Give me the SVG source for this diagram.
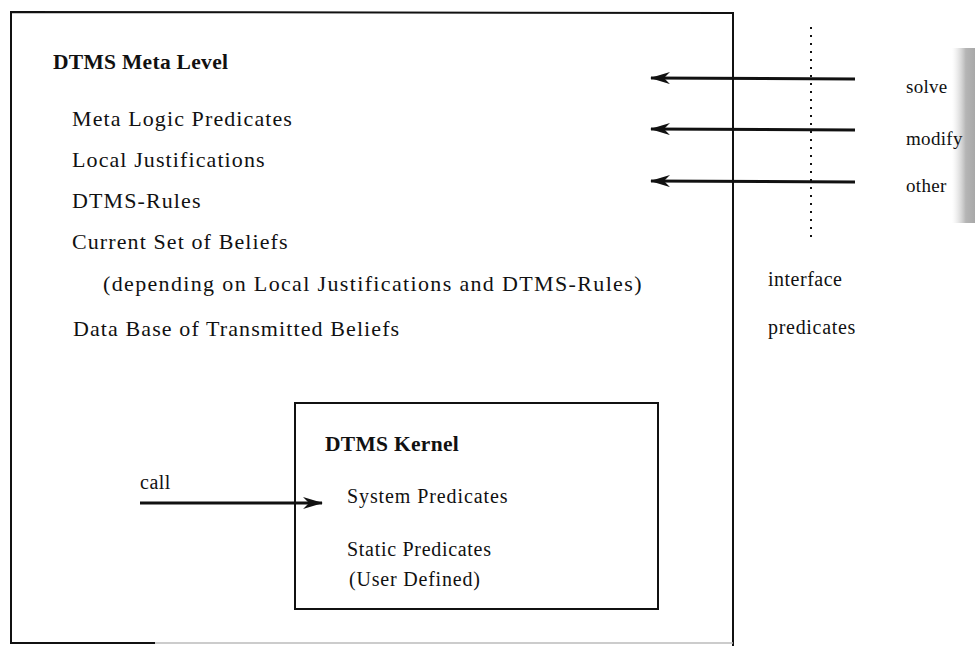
<svg xmlns="http://www.w3.org/2000/svg" width="979" height="646" viewBox="0 0 979 646">
<defs>
<marker id="ah" viewBox="0 0 20 12" refX="19" refY="6" markerWidth="20" markerHeight="12" markerUnits="userSpaceOnUse" orient="auto">
<path d="M0,0 L20,6 L0,12 L6,6 Z" fill="#111"/>
</marker>
<linearGradient id="smear" x1="0" x2="1" y1="0" y2="0">
<stop offset="0" stop-color="#ddd" stop-opacity="0"/>
<stop offset="0.6" stop-color="#b5b5b5"/>
<stop offset="1" stop-color="#a8a8a8"/>
</linearGradient>
</defs>
<style>
text{font-family:"Liberation Serif","Times New Roman",serif;fill:#111}
.t{font-size:22px;letter-spacing:1.1px}
.k{font-size:20px;letter-spacing:0.9px}
.b{font-size:21.5px;font-weight:bold;letter-spacing:0.3px}
.s{font-size:20px;letter-spacing:0.5px}
.r{font-size:19px;letter-spacing:0.3px}
.box{fill:none;stroke:#111;stroke-width:2}
.arr{stroke:#111;stroke-width:3;fill:none}
</style>
<rect x="0" y="0" width="979" height="646" fill="#fff"/>
<rect x="952" y="48" width="23" height="175" fill="url(#smear)"/>
<g id="meta-level">
<path class="box" d="M155,643 L11,643 L11,12 L733,13 L733,646"/>
<line x1="155" y1="643" x2="733" y2="643" stroke="#bbb" stroke-width="1.5"/>
<text class="b" x="53" y="69">DTMS Meta Level</text>
<text class="t" x="72" y="126">Meta Logic Predicates</text>
<text class="t" x="72" y="167">Local Justifications</text>
<text class="t" x="72" y="208">DTMS-Rules</text>
<text class="t" x="72" y="249">Current Set of Beliefs</text>
<text class="t" x="103" y="291" style="letter-spacing:1.35px">(depending on Local Justifications and DTMS-Rules)</text>
<text class="t" x="73" y="336">Data Base of Transmitted Beliefs</text>
</g>
<g id="kernel">
<rect class="box" x="295" y="403" width="363" height="206"/>
<text class="b" x="325" y="451">DTMS Kernel</text>
<text class="k" x="347" y="503">System Predicates</text>
<text class="k" x="347" y="556" style="letter-spacing:0.7px">Static Predicates</text>
<text class="k" x="349" y="586" style="letter-spacing:0.8px">(User Defined)</text>
</g>
<g id="interface">
<line x1="811" y1="27" x2="811" y2="237" stroke="#111" stroke-width="2" stroke-dasharray="2,6"/>
<text class="s" x="768" y="286">interface</text>
<text class="s" x="768" y="334" style="letter-spacing:0.7px">predicates</text>
<text class="r" x="906" y="93">solve</text>
<text class="r" x="906" y="145">modify</text>
<text class="r" x="906" y="192">other</text>
</g>
<g id="connectors">
<line class="arr" x1="855" y1="79" x2="651" y2="78" marker-end="url(#ah)"/>
<line class="arr" x1="855" y1="130" x2="651" y2="129" marker-end="url(#ah)"/>
<line class="arr" x1="855" y1="182" x2="651" y2="181" marker-end="url(#ah)"/>
<line class="arr" x1="140" y1="503" x2="322" y2="503" marker-end="url(#ah)"/>
<text class="s" x="140" y="489">call</text>
</g>
</svg>
